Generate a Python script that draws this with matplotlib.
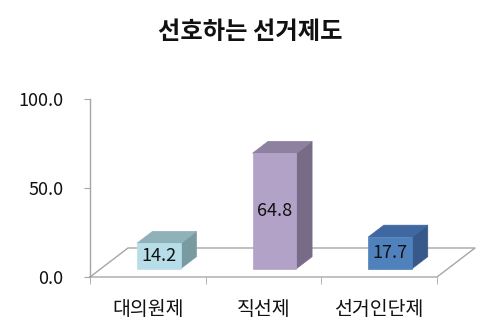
import matplotlib
matplotlib.use("Agg")
import matplotlib.pyplot as plt
from matplotlib.patches import Polygon

plt.rcParams['font.family'] = ['Noto Sans CJK KR', 'DejaVu Sans']

title = "선호하는 선거제도"
categories = ["대의원제", "직선제", "선거인단제"]
values = [14.2, 64.8, 17.7]
yticks = [0, 50, 100]
ytick_labels = ["0.0", "50.0", "100.0"]

front_colors = ["#b7dee8", "#b3a2c7", "#4f81bd"]
top_colors = ["#8fb1b9", "#8e809f", "#3f67a0"]
side_colors = ["#7a9aa2", "#776b88", "#36598a"]

W, H = 501, 334
fig = plt.figure(figsize=(W / 100, H / 100), dpi=100)
ax = fig.add_axes([90 / W, 57 / H, 347 / W, 178 / H])
ax.set_xlim(-0.5, 2.5)
ax.set_ylim(0, 100)

ddx, ddy = 0.3285, 16.3  # floor depth vector in data units


def P(x, y, z):
    return (x + z * ddx, y + z * ddy)


grey = "#a6a6a6"
# floor
fl = [P(-0.5, 0, 0), P(2.5, 0, 0), P(2.5, 0, 1), P(-0.5, 0, 1), P(-0.5, 0, 0)]
ax.plot([p[0] for p in fl], [p[1] for p in fl], color=grey, lw=1.0,
        clip_on=False, zorder=1)

w, z0, z1 = 0.19, 0.29, 0.7
for i, v in enumerate(values):
    front = [P(i - w, 0, z0), P(i + w, 0, z0), P(i + w, v, z0), P(i - w, v, z0)]
    top = [P(i - w, v, z0), P(i + w, v, z0), P(i + w, v, z1), P(i - w, v, z1)]
    side = [P(i + w, 0, z0), P(i + w, 0, z1), P(i + w, v, z1), P(i + w, v, z0)]
    for poly, c in ((side, side_colors[i]), (top, top_colors[i]), (front, front_colors[i])):
        ax.add_patch(Polygon(poly, closed=True, facecolor=c, edgecolor=c,
                             lw=0.5, zorder=3, clip_on=False))
    cx, cy = P(i, v / 2, z0)
    ax.text(cx, cy, f"{v:.1f}", ha="center", va="center", fontsize=13,
            color="#111111", zorder=4)

for s in ["top", "right", "bottom"]:
    ax.spines[s].set_visible(False)
ax.spines["left"].set_color(grey)
ax.spines["left"].set_linewidth(1.0)

ax.set_yticks(yticks)
ax.set_yticklabels(ytick_labels, fontsize=13)
ax.tick_params(axis="y", length=4, color=grey, pad=15, labelcolor="#111111")

ax.set_xticks(range(len(categories)))
ax.set_xticklabels(categories, fontsize=14)
ax.set_xticks([-0.5, 0.5, 1.5, 2.5], minor=True)
ax.tick_params(axis="x", which="major", length=0, pad=16, labelcolor="#111111")
ax.tick_params(axis="x", which="minor", length=5, color=grey)

fig.text(250 / W, 1 - 32 / H, title, ha="center", va="center",
         fontsize=17.5, fontweight="bold", color="#111111")

fig.savefig("out.png", dpi=100)
